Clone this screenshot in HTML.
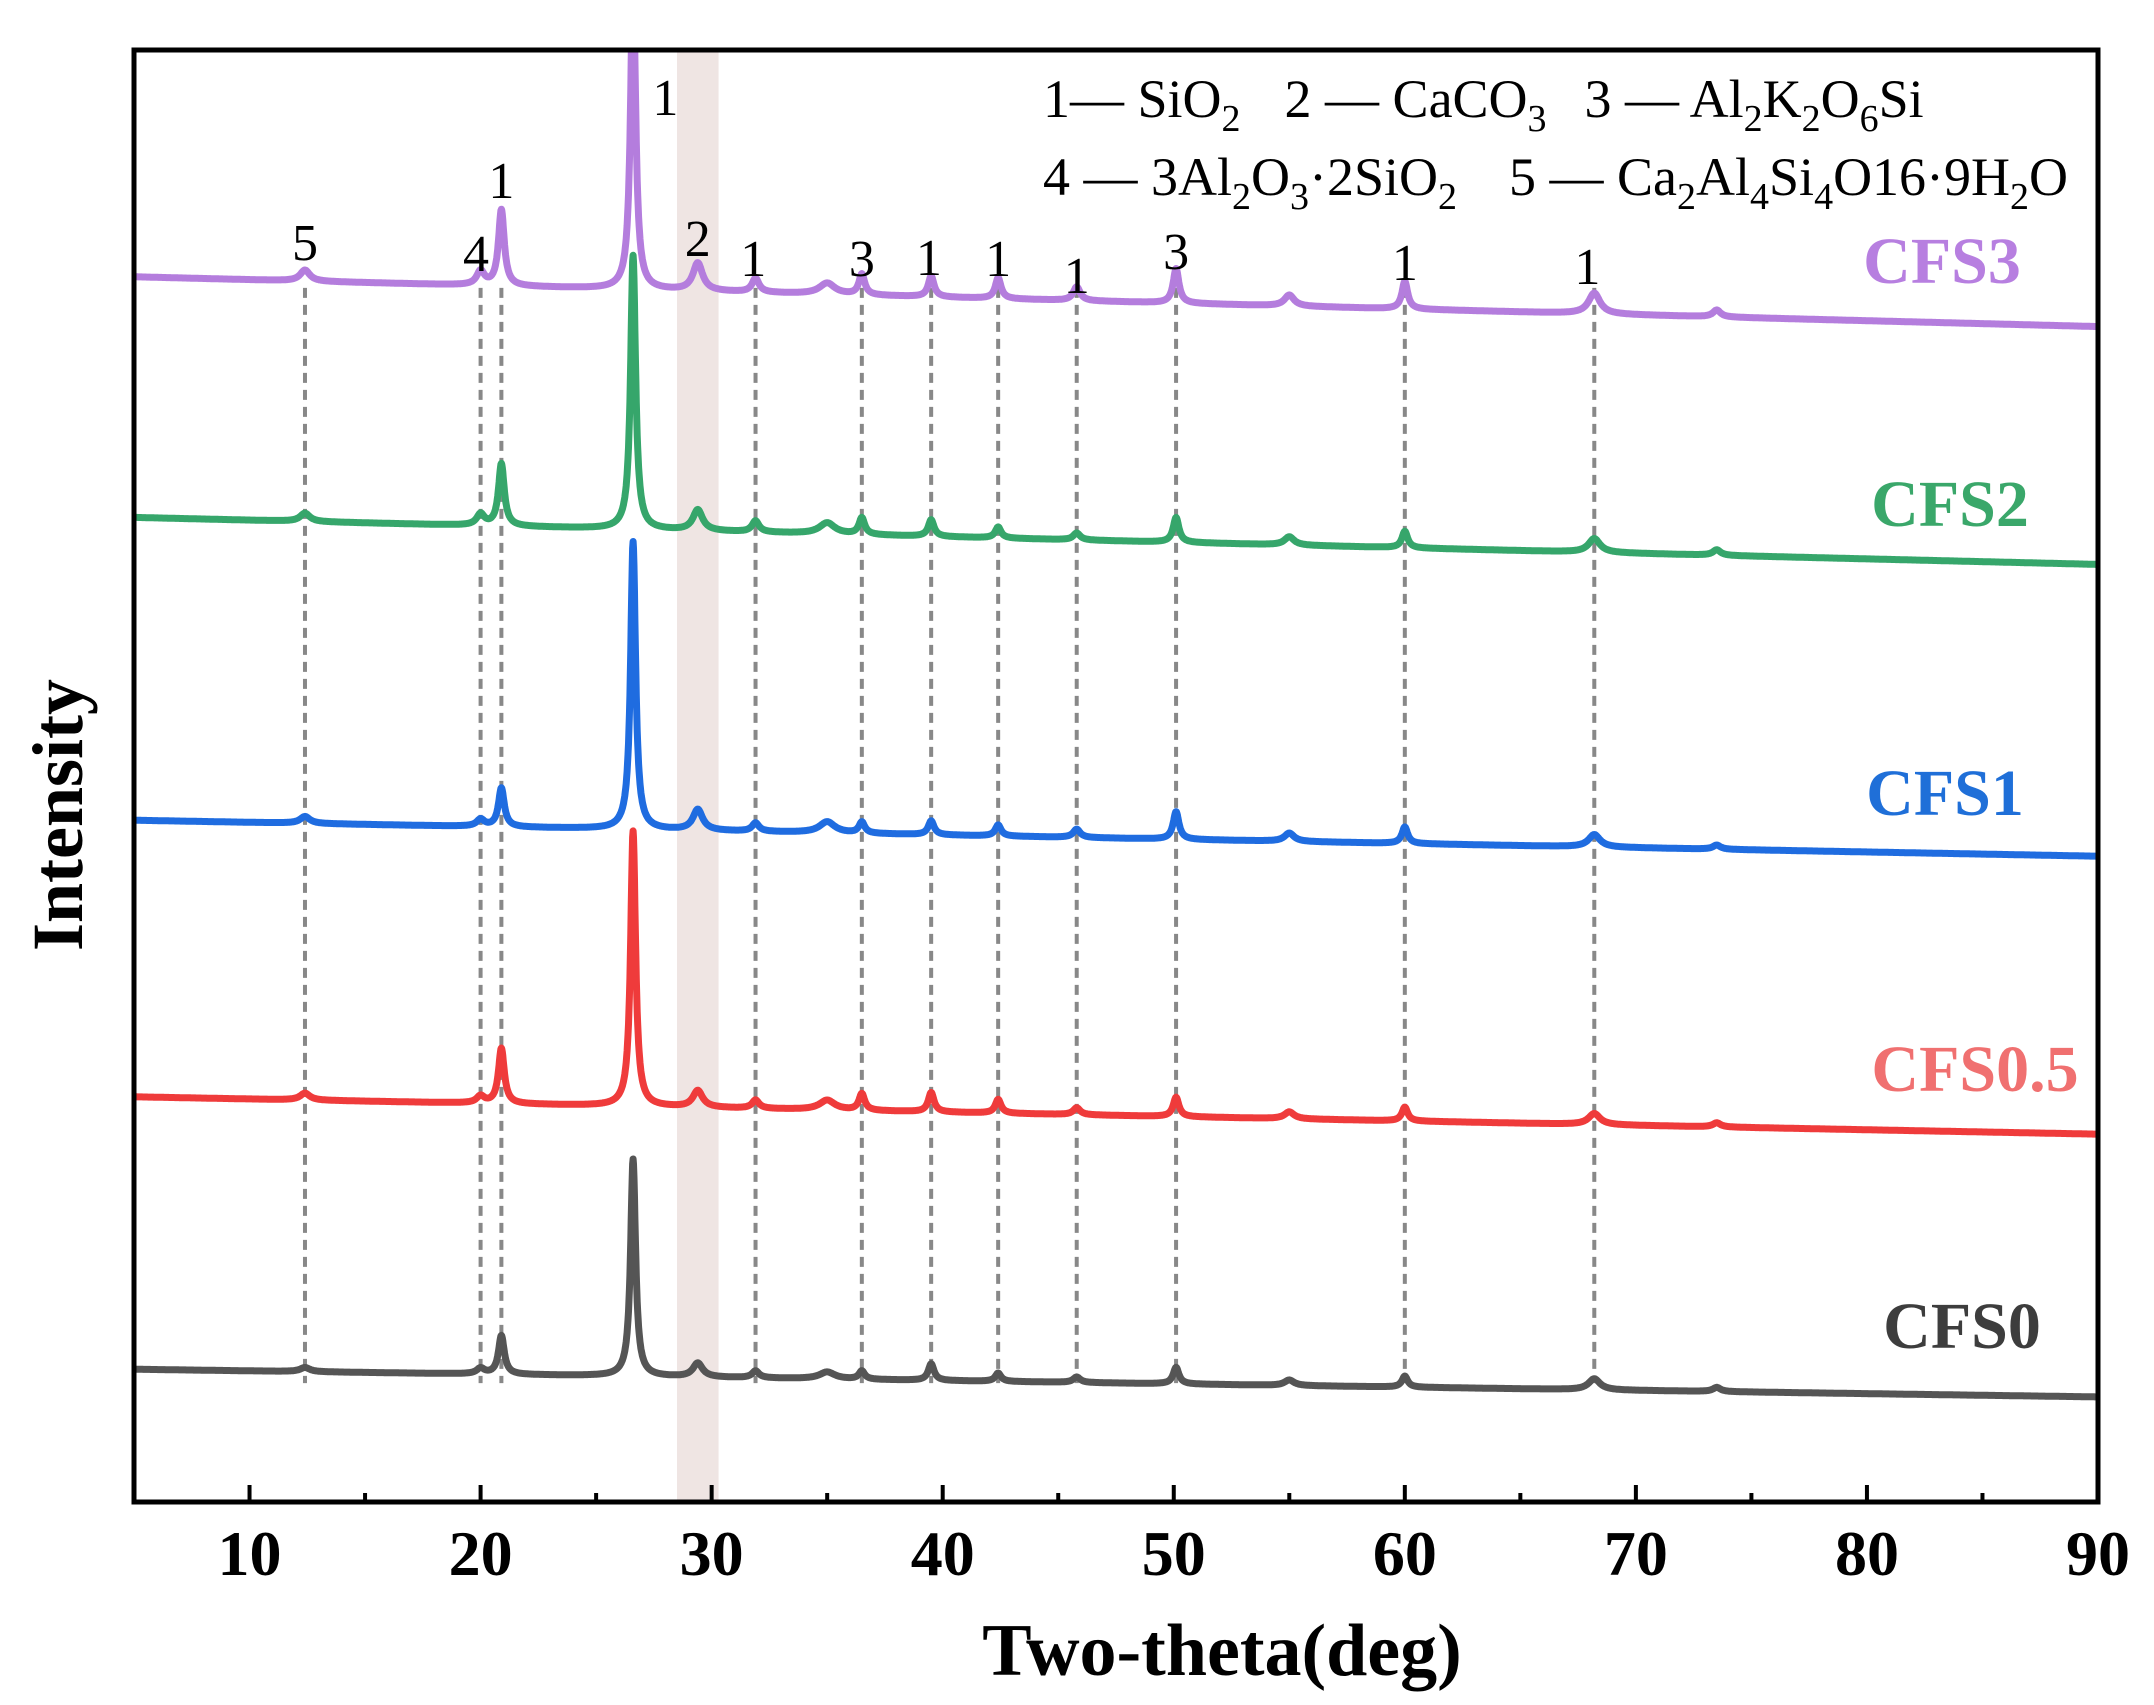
<!DOCTYPE html>
<html><head><meta charset="utf-8"><style>
html,body{margin:0;padding:0;background:#fff;}
svg{display:block;font-family:"Liberation Serif",serif;}
</style></head><body>
<svg id="chart" width="2154" height="1705" viewBox="0 0 2154 1705" xmlns="http://www.w3.org/2000/svg">
<rect x="0" y="0" width="2154" height="1705" fill="#fff"/>
<defs><clipPath id="plotclip"><rect x="134" y="50" width="1964" height="1452"/></clipPath></defs>
<g id="band"></g>
<g id="dashes"></g>
<g id="curves" clip-path="url(#plotclip)"></g>
<g id="peaklabels"></g>
<g id="serieslabels"></g>
<rect x="134" y="50" width="1964" height="1452" fill="none" stroke="#000" stroke-width="5"/>
<g id="xaxis"></g>
<text x="1222" y="1675" text-anchor="middle" font-size="74" font-weight="bold">Two-theta(deg)</text>
<text transform="translate(82,815) rotate(-90)" text-anchor="middle" font-size="72" font-weight="bold">Intensity</text>
<g font-size="54">
<text x="1043" y="117">1— SiO<tspan font-size="38" dy="14">2</tspan><tspan dy="-14" dx="44">2 — CaCO</tspan><tspan font-size="38" dy="14">3</tspan><tspan dy="-14" dx="38">3 — Al</tspan><tspan font-size="38" dy="14">2</tspan><tspan dy="-14">K</tspan><tspan font-size="38" dy="14">2</tspan><tspan dy="-14">O</tspan><tspan font-size="38" dy="14">6</tspan><tspan dy="-14">Si</tspan></text>
<text x="1043" y="195">4 — 3Al<tspan font-size="38" dy="14">2</tspan><tspan dy="-14">O</tspan><tspan font-size="38" dy="14">3</tspan><tspan dy="-14">·2SiO</tspan><tspan font-size="38" dy="14">2</tspan><tspan dy="-14" dx="52">5 — Ca</tspan><tspan font-size="38" dy="14">2</tspan><tspan dy="-14">Al</tspan><tspan font-size="38" dy="14">4</tspan><tspan dy="-14">Si</tspan><tspan font-size="38" dy="14">4</tspan><tspan dy="-14">O16·9H</tspan><tspan font-size="38" dy="14">2</tspan><tspan dy="-14">O</tspan></text>
</g>
</svg>
<script>
const xTicks = [10,20,30,40,50,60,70,80,90];
const seriesNames = ["CFS0","CFS0.5","CFS1","CFS2","CFS3"];
const seriesColors = ["#555555","#ef3b3b","#1f6ce0","#36a66b","#b47ddd"];
const labelColors = ["#3d3d3d","#f07070","#1f6fd8","#3aa76a","#b77fe0"];
const baseStart = [96,293,493,712,886];
const baseEnd = [76,266,467,678,850];
const peakPos = [12.4,20.0,20.9,26.6,29.4,31.9,35.0,36.5,39.5,42.4,45.8,50.1,55.0,60.0,68.2,73.5];
const peakWidth = [0.25,0.2,0.15,0.13,0.25,0.18,0.4,0.15,0.15,0.15,0.18,0.15,0.25,0.15,0.3,0.2];
const hCFS0 = [3,4,28,157,10,5,5,6,12,6,4,12,4,8,8,3];
const hCFS05 = [5,5,40,199,12,6,7,12,14,10,5,14,5,10,8,3];
const hCFS1 = [5,5,28,208,15,6,8,8,10,8,6,20,6,12,9,3];
const hCFS2 = [6,8,45,198,15,8,8,12,12,8,5,18,6,12,10,4];
const hCFS3 = [8,10,55,230,20,10,8,15,15,15,10,25,8,20,15,5];
const heights = [hCFS0,hCFS05,hCFS1,hCFS2,hCFS3];
const dashPos = [12.4,20.0,20.9,31.9,36.5,39.5,42.4,45.8,50.1,60.0,68.2];
const peakLabelText = ["5","4","1","1","2","1","3","1","1","1","3","1","1"];
const peakLabelX = [12.4,19.8,20.9,28.0,29.4,31.8,36.5,39.4,42.4,45.8,50.1,60.0,67.9];
const peakLabelY = [260,271,198,115,256,276,276,275,276,293,269,280,284];
const bandRange = [28.5,30.3];
const seriesLabelY = [1348,1091,815,526,283];
const seriesLabelX = [1962,1975,1945,1950,1942];

const NS="http://www.w3.org/2000/svg";
const X0=5,X1=90,PL=134,PR=2098,PT=50,PB=1502,Y0=0,Y1=1050;
const xs=v=>PL+(v-X0)/(X1-X0)*(PR-PL);
const ys=v=>PB-(v-Y0)/(Y1-Y0)*(PB-PT);
function el(tag,attrs,parent){const e=document.createElementNS(NS,tag);for(const k in attrs)e.setAttribute(k,attrs[k]);parent.appendChild(e);return e;}

const band=document.getElementById('band');
const b=el('rect',{x:xs(bandRange[0]),y:PT,width:xs(bandRange[1])-xs(bandRange[0]),height:PB-PT,fill:'#efe5e3'},band);



const dashes=document.getElementById('dashes');
dashPos.forEach(p=>{
  const l=el('line',{x1:xs(p),x2:xs(p),y1:ys(878),y2:ys(86),stroke:'#888','stroke-width':4,'stroke-dasharray':'10,7'},dashes);
  
  
});

const curves=document.getElementById('curves');
heights.forEach((h,si)=>{
  let d='';
  for(let x=X0;x<=X1+1e-9;x+=0.02){
    let v=baseStart[si]+(baseEnd[si]-baseStart[si])*(x-X0)/(X1-X0);
    for(let i=0;i<peakPos.length;i++){const w=peakWidth[i];const t=(x-peakPos[i])/w;v+=h[i]/(1+t*t);}
    d+=(d?'L':'M')+xs(x).toFixed(1)+','+ys(v).toFixed(1);
  }
  const p=el('path',{d:d,fill:'none',stroke:seriesColors[si],'stroke-width':7,'stroke-linejoin':'round'},curves);
  
  
});

const pl=document.getElementById('peaklabels');
peakLabelText.forEach((t,i)=>{
  const e=el('text',{x:xs(peakLabelX[i]),y:peakLabelY[i],'text-anchor':'middle','font-size':52},pl);
  e.textContent=t;
  
  
});

const sl=document.getElementById('serieslabels');
seriesNames.forEach((n,i)=>{
  const e=el('text',{x:seriesLabelX[i],y:seriesLabelY[i],'text-anchor':'middle','font-size':66,'font-weight':'bold',fill:labelColors[i]},sl);
  e.textContent=n;
  
  
});

const xa=document.getElementById('xaxis');
for(let v=5;v<=90;v+=5){
  if(v===5||v===90)continue;
  const major=v%10===0;
  const t=el('line',{x1:xs(v),x2:xs(v),y1:PB,y2:PB-(major?17:9),stroke:'#000','stroke-width':4},xa);
  
  
}
xTicks.forEach(v=>{
  const t=el('text',{x:xs(v),y:1575,'text-anchor':'middle','font-size':64,'font-weight':'bold'},xa);
  t.textContent=v;
  
  
});
</script>
</body></html>
